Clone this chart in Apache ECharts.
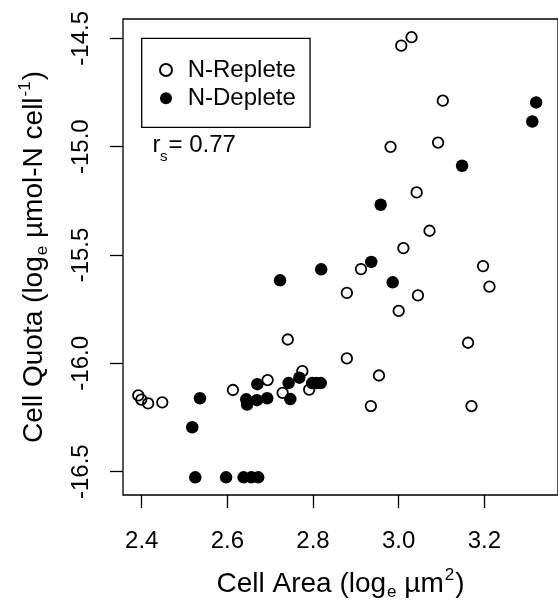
<!DOCTYPE html>
<html>
<head>
<meta charset="utf-8">
<script src="https://cdn.jsdelivr.net/npm/echarts@6/dist/echarts.min.js"></script>
<style>
html,body{margin:0;padding:0;background:#fff;}
#chart{width:558px;height:606px;}
</style>
</head>
<body>
<div id="chart"></div>
<script>
var repleteX = [3.006,3.030,3.103,2.981,3.092,3.042,3.072,3.011,2.912,3.197,3.212,2.879,3.045,3.000,2.741,3.162,2.879,2.954,2.775,2.694,2.791,2.729,2.613,2.935,3.170,2.392,2.399,2.415,2.448];
var repleteY = [-14.534,-14.495,-14.788,-15.001,-14.981,-15.211,-15.388,-15.468,-15.565,-15.551,-15.646,-15.675,-15.686,-15.758,-15.890,-15.905,-15.977,-16.056,-16.036,-16.077,-16.121,-16.136,-16.123,-16.197,-16.197,-16.148,-16.167,-16.185,-16.180];
var depleteX = [3.321,3.312,3.148,2.958,2.936,2.819,2.723,2.986,2.768,2.670,2.743,2.798,2.808,2.818,2.747,2.644,2.646,2.669,2.693,2.536,2.518,2.525,2.597,2.638,2.656,2.672];
var depleteY = [-14.796,-14.884,-15.088,-15.268,-15.532,-15.566,-15.617,-15.626,-16.066,-16.096,-16.091,-16.091,-16.091,-16.091,-16.165,-16.166,-16.190,-16.170,-16.161,-16.161,-16.295,-16.526,-16.526,-16.526,-16.526,-16.526];
var xTicks = [2.4, 2.6, 2.8, 3.0, 3.2];
var yTicks = [-16.5, -16.0, -15.5, -15.0, -14.5];
var seriesNames = ['N-Replete', 'N-Deplete'];
var statText = '0.77';

function pairs(xs, ys) { return xs.map(function (x, i) { return [x, ys[i]]; }); }

var FONT = '"Liberation Sans", Arial, Helvetica, sans-serif';
var chart = echarts.init(document.getElementById('chart'), null, {renderer: 'canvas'});
var richName = {
  a: {fontSize: 28, lineHeight: 34, fontFamily: FONT, color: '#000'},
  b: {fontSize: 17, lineHeight: 10, verticalAlign: 'bottom', fontFamily: FONT, color: '#000', padding: [0, 0, 0, 1]},
  c: {fontSize: 17, lineHeight: 22, verticalAlign: 'top', fontFamily: FONT, color: '#000', padding: [0, 1, 0, 1]}
};
var option = {
  animation: false,
  backgroundColor: '#fff',
  textStyle: {fontFamily: FONT, color: '#000'},
  grid: {left: 123, top: 19, width: 449, height: 476, show: true, borderColor: '#000', borderWidth: 1.3, backgroundColor: 'transparent'},
  xAxis: {
    type: 'value', min: 2.3563, max: 3.372,
    splitLine: {show: false},
    axisLine: {show: false},
    axisTick: {show: true, customValues: xTicks, length: 13, inside: false, lineStyle: {color: '#000', width: 1.3}},
    axisLabel: {customValues: xTicks, margin: 34, fontSize: 24, color: '#000', fontFamily: FONT, formatter: function (v) { return v.toFixed(1); }},
    name: '{a|Cell Area (log}{b|e}{a| µm}{c|2}{a|)}',
    nameLocation: 'middle', nameGap: 72,
    nameTextStyle: {fontFamily: FONT, color: '#000', rich: richName}
  },
  yAxis: {
    type: 'value', min: -16.6075, max: -14.4109,
    splitLine: {show: false},
    axisLine: {show: false},
    axisTick: {show: true, customValues: yTicks, length: 13, inside: false, lineStyle: {color: '#000', width: 1.3}},
    axisLabel: {customValues: yTicks, margin: 30, rotate: 90, fontSize: 24, color: '#000', fontFamily: FONT, formatter: function (v) { return v.toFixed(1); }},
    name: '{a|Cell Quota (log}{b|e}{a| µmol-N cell}{c|-1}{a|)}',
    nameLocation: 'middle', nameGap: 72, nameRotate: 90,
    nameTextStyle: {fontFamily: FONT, color: '#000', rich: richName}
  },
  legend: {
    show: true, orient: 'vertical', left: 141.7, top: 38.3,
    data: seriesNames,
    icon: 'circle', itemWidth: 12, itemHeight: 12, itemGap: 4.3,
    padding: [19.7, 14.3, 17, 17.3],
    borderColor: '#000', borderWidth: 1.3, borderRadius: 0,
    backgroundColor: '#fff',
    textStyle: {fontSize: 24, color: '#000', fontFamily: FONT, padding: [0, 0, 0, 10.7]},
    selectedMode: false
  },
  series: [
    {name: seriesNames[0], type: 'scatter', data: pairs(repleteX, repleteY), symbol: 'circle', symbolSize: 10.5,
     itemStyle: {color: 'rgba(255,255,255,0)', borderColor: '#000', borderWidth: 1.8, opacity: 1}, z: 2},
    {name: seriesNames[1], type: 'scatter', data: pairs(depleteX, depleteY), symbol: 'circle', symbolSize: 12.5,
     itemStyle: {color: '#000', borderWidth: 0, opacity: 1}, z: 3}
  ],
  graphic: [
    {type: 'text', left: 152.5, top: 133, style: {text: 'r', fontSize: 24, fontFamily: FONT, fill: '#000'}},
    {type: 'text', left: 160, top: 149, style: {text: 's', fontSize: 15, fontFamily: FONT, fill: '#000'}},
    {type: 'text', left: 168.5, top: 133, style: {text: '= ' + statText, fontSize: 24, fontFamily: FONT, fill: '#000'}}
  ]
};
chart.setOption(option);
</script>
</body>
</html>
